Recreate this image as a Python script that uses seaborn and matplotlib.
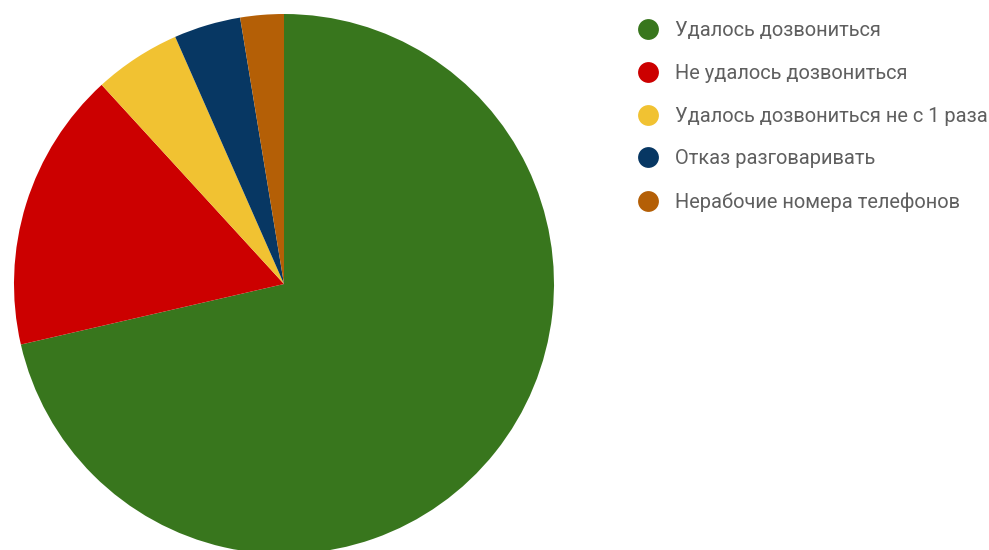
import matplotlib
matplotlib.use("Agg")
import matplotlib.pyplot as plt
from matplotlib.lines import Line2D
import seaborn as sns

labels = [
    "Удалось дозвониться",
    "Не удалось дозвониться",
    "Удалось дозвониться не с 1 раза",
    "Отказ разговаривать",
    "Нерабочие номера телефонов",
]
shares = [71.4, 16.8, 5.2, 4.0, 2.6]
colors = ["#38761d", "#cc0000", "#f1c232", "#073763", "#b45f06"]

sns.set_theme(style="white")
plt.rcParams["font.family"] = ["Roboto", "DejaVu Sans"]

fig = plt.figure(figsize=(9.89, 5.5), dpi=100)
ax = fig.add_axes([14 / 989, -4 / 550, 540 / 989, 540 / 550])
ax.pie(
    shares,
    colors=colors,
    startangle=90,
    counterclock=False,
    wedgeprops={"linewidth": 0},
)
ax.set_xlim(-1, 1)
ax.set_ylim(-1, 1)
ax.set_aspect("equal")
ax.axis("off")

handles = [
    Line2D([], [], marker="o", linestyle="", markersize=15, color=c, markeredgewidth=0)
    for c in colors
]
fig.legend(
    handles,
    labels,
    loc="upper left",
    bbox_to_anchor=(637 / 989, 1 - 21 / 550),
    frameon=False,
    fontsize=14.4,
    labelcolor="#5f5f5f",
    handlelength=1.08,
    handletextpad=0.82,
    labelspacing=1.19,
    borderpad=0,
    borderaxespad=0,
)

fig.savefig("out.png", dpi=100)
